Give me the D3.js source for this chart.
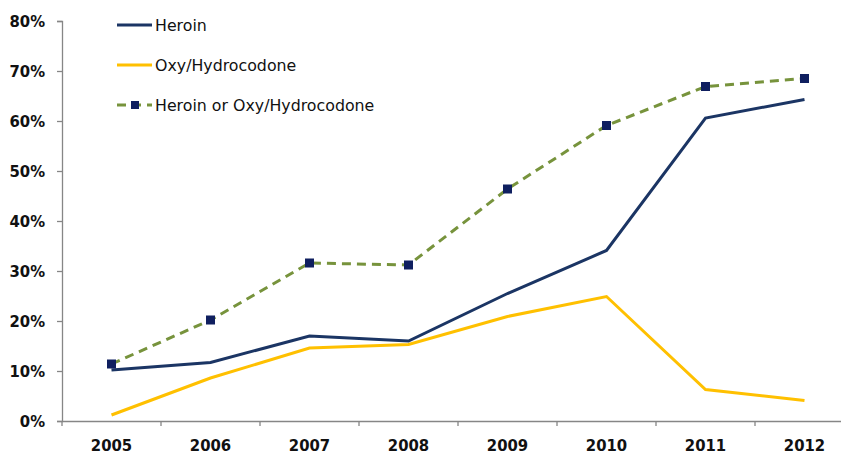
<!DOCTYPE html>
<html>
<head>
<meta charset="utf-8">
<script src="https://cdn.jsdelivr.net/npm/d3@7"></script>
<style>
  body { margin: 0; background: #fff; }
  svg { display: block; }
</style>
</head>
<body>
<div id="chart"></div>
<script>
const years = ['2005', '2006', '2007', '2008', '2009', '2010', '2011', '2012'];
const heroin = [10.2, 11.7, 17.0, 16.0, 25.5, 34.1, 60.6, 64.3];
const oxy = [1.2, 8.6, 14.6, 15.3, 20.9, 24.9, 6.3, 4.1];
const either = [11.4, 20.2, 31.6, 31.2, 46.4, 59.1, 66.9, 68.5];
const yTicks = [0, 10, 20, 30, 40, 50, 60, 70, 80];
const legendLabels = ['Heroin', 'Oxy/Hydrocodone', 'Heroin or Oxy/Hydrocodone'];

const W = 841, H = 455;
const AXIS = '#868686';
const NAVY = '#1B3564';
const GOLD = '#FFC000';
const GREEN = '#77933C';
const MARK = '#0F1F5F';
const AXIS_FONT = '"DejaVu Sans Condensed", "DejaVu Sans", sans-serif';

const svg = d3.select('#chart').append('svg').attr('width', W).attr('height', H);

const x = d3.scaleBand().domain(years).range([62, 854]);
const y = d3.scaleLinear().domain([0, 80]).range([421, 21]);
const cx = (d) => x(d) + x.bandwidth() / 2;

// eje y
const yAxis = svg.append('g').attr('transform', 'translate(62,0)')
  .call(d3.axisLeft(y).tickValues(yTicks).tickFormat((d) => d + '%').tickSize(5).tickPadding(12));
yAxis.select('.domain').attr('stroke', AXIS).attr('stroke-width', 1.3);
yAxis.selectAll('.tick line').attr('stroke', AXIS).attr('stroke-width', 1.3);
yAxis.selectAll('text')
  .attr('font-family', AXIS_FONT).attr('font-size', 16.5)
  .attr('font-weight', 'bold').attr('fill', '#111');

// eje x
const xAxis = svg.append('g').attr('transform', 'translate(0,421)')
  .call(d3.axisBottom(x).tickSize(0).tickPadding(18));
xAxis.select('.domain').attr('stroke', AXIS).attr('stroke-width', 1.3);
xAxis.selectAll('text')
  .attr('font-family', AXIS_FONT).attr('font-size', 16.5)
  .attr('font-weight', 'bold').attr('fill', '#111');
// marcas entre categorías
const bordes = [x(years[0])].concat(years.map((d) => x(d) + x.bandwidth()));
svg.append('g').selectAll('line')
  .data(bordes)
  .join('line')
  .attr('x1', (d) => d).attr('x2', (d) => d)
  .attr('y1', 421).attr('y2', 426)
  .attr('stroke', AXIS).attr('stroke-width', 1.3);

const line = d3.line().x((d, i) => cx(years[i])).y((d) => y(d));

svg.append('path').datum(either).attr('d', line).attr('fill', 'none')
  .attr('stroke', GREEN).attr('stroke-width', 3).attr('stroke-dasharray', '9,6');
svg.append('path').datum(oxy).attr('d', line).attr('fill', 'none')
  .attr('stroke', GOLD).attr('stroke-width', 3);
svg.append('path').datum(heroin).attr('d', line).attr('fill', 'none')
  .attr('stroke', NAVY).attr('stroke-width', 3);

svg.append('g').selectAll('rect').data(either).join('rect')
  .attr('x', (d, i) => cx(years[i]) - 4.5).attr('y', (d) => y(d) - 4.5)
  .attr('width', 9).attr('height', 9).attr('fill', MARK);

// leyenda
const leg = svg.append('g');
const legY = [25, 65, 105];
const legColors = [NAVY, GOLD, GREEN];
legendLabels.forEach((label, i) => {
  const g = leg.append('g').attr('transform', `translate(0,${legY[i]})`);
  g.append('line').attr('x1', 117).attr('x2', 152).attr('y1', 0).attr('y2', 0)
    .attr('stroke', legColors[i]).attr('stroke-width', 3)
    .attr('stroke-dasharray', i === 2 ? '9,6' : null);
  if (i === 2) {
    g.append('rect').attr('x', 131).attr('y', -4).attr('width', 8).attr('height', 8).attr('fill', MARK);
  }
  g.append('text').attr('x', 155).attr('y', 0).attr('dy', '0.35em')
    .attr('font-family', '"DejaVu Sans", sans-serif').attr('font-size', 15.8)
    .attr('fill', '#111').text(label);
});
</script>
</body>
</html>
